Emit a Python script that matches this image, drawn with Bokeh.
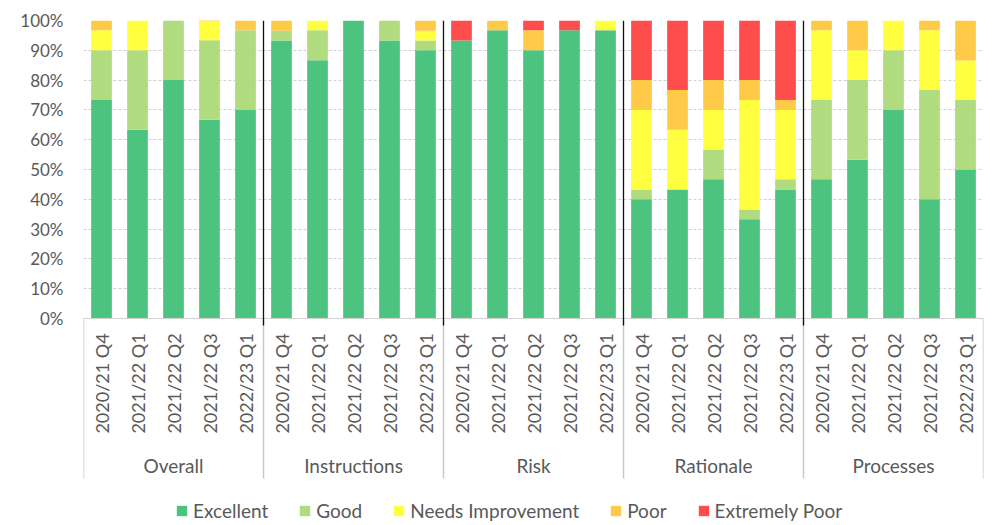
from math import pi
from bokeh.plotting import figure
from bokeh.models import FactorRange, ColumnDataSource, FixedTicker, PrintfTickFormatter
from bokeh.core.properties import value
from bokeh.embed import file_html
from bokeh.resources import INLINE

groups = ["Overall", "Instructions", "Risk", "Rationale", "Processes"]
quarters = ["2020/21 Q4", "2021/22 Q1", "2021/22 Q2", "2021/22 Q3", "2022/23 Q1"]
series = ["Excellent", "Good", "Needs Improvement", "Poor", "Extremely Poor"]
colors = ["#4cc47f", "#b0dc7f", "#ffff40", "#ffca47", "#ff4c4c"]

excellent = [73.3, 63.3, 80.0, 66.7, 70.0,
             93.3, 86.7, 100.0, 93.3, 90.0,
             93.3, 96.7, 90.0, 96.7, 96.7,
             40.0, 43.3, 46.7, 33.3, 43.3,
             46.7, 53.3, 70.0, 40.0, 50.0]
good = [16.7, 26.7, 20.0, 26.7, 26.7,
        3.3, 10.0, 0.0, 6.7, 3.3,
        0.0, 0.0, 0.0, 0.0, 0.0,
        3.3, 0.0, 10.0, 3.3, 3.4,
        26.7, 26.7, 20.0, 36.7, 23.3]
needs_improvement = [6.7, 10.0, 0.0, 6.7, 0.0,
                     0.0, 3.3, 0.0, 0.0, 3.3,
                     0.0, 0.0, 0.0, 0.0, 3.3,
                     26.7, 20.0, 13.3, 36.7, 23.3,
                     23.3, 10.0, 10.0, 20.0, 13.3]
poor = [3.3, 0.0, 0.0, 0.0, 3.3,
        3.4, 0.0, 0.0, 0.0, 3.4,
        0.0, 3.3, 6.7, 0.0, 0.0,
        10.0, 13.4, 10.0, 6.7, 3.3,
        3.3, 10.0, 0.0, 3.3, 13.4]
extremely_poor = [0.0, 0.0, 0.0, 0.0, 0.0,
                  0.0, 0.0, 0.0, 0.0, 0.0,
                  6.7, 0.0, 3.3, 3.3, 0.0,
                  20.0, 23.3, 20.0, 20.0, 26.7,
                  0.0, 0.0, 0.0, 0.0, 0.0]
y_ticks = [0, 10, 20, 30, 40, 50, 60, 70, 80, 90, 100]

FONT = value("Lato")
TXT = "#595959"

factors = [(g, q) for g in groups for q in quarters]
src = ColumnDataSource(data={
    "x": factors,
    "Excellent": excellent,
    "Good": good,
    "Needs Improvement": needs_improvement,
    "Poor": poor,
    "Extremely Poor": extremely_poor,
})

p = figure(
    x_range=FactorRange(*factors, range_padding=0, group_padding=0,
                        factor_padding=0, subgroup_padding=0),
    y_range=(-69.5, 100),
    width=993, height=525,
    output_backend="svg", toolbar_location=None,
    x_axis_location=None,
    min_border_left=83, min_border_right=10, min_border_top=20, min_border_bottom=0,
    outline_line_color=None,
)

# grid
p.xgrid.visible = False
p.ygrid.ticker = FixedTicker(ticks=y_ticks[1:])
p.ygrid.grid_line_color = "#d0d0d0"
p.ygrid.grid_line_dash = "3 2"
p.ygrid.grid_line_width = 1

# y axis
ya = p.yaxis[0]
ya.ticker = FixedTicker(ticks=y_ticks)
ya.formatter = PrintfTickFormatter(format="%d%%")
ya.axis_line_color = None
ya.major_tick_line_color = None
ya.minor_tick_line_color = None
ya.major_tick_out = 0
ya.major_label_standoff = 20
ya.major_label_text_font = "Lato"
ya.major_label_text_font_size = "17px"
ya.major_label_text_color = TXT

# bars
p.vbar_stack(series, x="x", width=0.575, source=src, color=colors,
             line_color=None, legend_label=series)

n = len(quarters)
bounds = [i * n for i in range(len(groups) + 1)]

# zero axis line
p.segment(x0=[bounds[0]], y0=[0], x1=[bounds[-1]], y1=[0],
          line_color="#d0d0d0", line_width=1)

# gray category separators below the axis
p.segment(x0=bounds, y0=[0] * len(bounds), x1=bounds, y1=[-53.7] * len(bounds),
          line_color="#c8c8c8", line_width=1.5)

# black group dividers inside plot
inner = bounds[1:-1]
p.segment(x0=inner, y0=[-2.4] * len(inner), x1=inner, y1=[100] * len(inner),
          line_color="#111111", line_width=1.3)

# quarter labels
qsrc = ColumnDataSource(data={"x": factors, "text": [q for g in groups for q in quarters]})
p.text(x="x", y=-5, text="text", source=qsrc, angle=pi / 2,
       text_align="right", text_baseline="middle",
       text_font=FONT, text_font_size="18px", text_color=TXT)

# group labels
gsrc = ColumnDataSource(data={"x": [(g, quarters[len(quarters) // 2]) for g in groups],
                              "text": groups})
p.text(x="x", y=-49.3, text="text", source=gsrc,
       text_align="center", text_baseline="middle",
       text_font=FONT, text_font_size="19px", text_color=TXT)

# legend
lg = p.legend[0]
lg.location = (92, 3)
lg.orientation = "horizontal"
lg.label_text_font = "Lato"
lg.label_text_font_size = "19px"
lg.label_text_color = TXT
lg.padding = 0
lg.margin = 0
lg.spacing = 30
lg.glyph_width = 13
lg.glyph_height = 13
lg.label_standoff = 5
lg.border_line_color = None
lg.background_fill_alpha = 0

open("out.html", "w").write(file_html(p, INLINE))
